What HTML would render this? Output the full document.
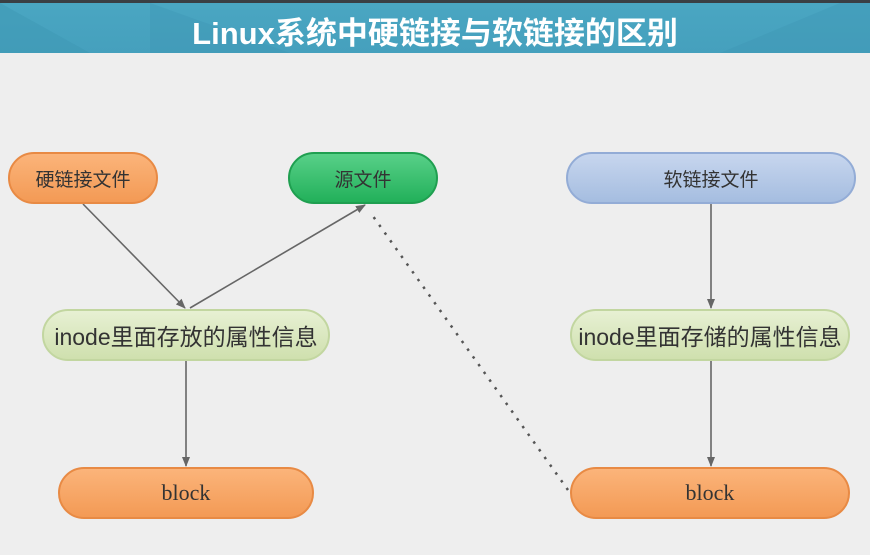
<!DOCTYPE html>
<html><head><meta charset="utf-8"><style>
body{margin:0;width:870px;height:555px;background:#eeeeee;position:relative;overflow:hidden;font-family:"Liberation Sans","Noto Sans CJK SC",sans-serif}
.hdr{position:absolute;left:0;top:0;width:870px;height:53px;background:linear-gradient(#3a3f44 0,#3a3f44 3px,#4aa6c2 3px,#45a0bd 100%)}
.hdr .t{position:absolute;left:0;width:870px;top:8px;text-align:center;color:#fff;font-size:31px;font-weight:bold}
.n{position:absolute;border-radius:26px;display:flex;align-items:center;justify-content:center;color:#333;box-sizing:border-box}
</style></head><body>
<div class="hdr"><svg width="870" height="53" style="position:absolute;left:0;top:0"><polygon points="0,3 90,53 0,53" fill="#3e97b3" opacity=".5"/><polygon points="150,3 290,53 150,53" fill="#3e97b3" opacity=".4"/><polygon points="720,53 840,3 870,3 870,53" fill="#3e97b3" opacity=".4"/></svg><div class="t">Linux系统中硬链接与软链接的区别</div></div>
<svg width="870" height="555" style="position:absolute;left:0;top:0">
<defs><marker id="a" markerWidth="10" markerHeight="10" refX="9" refY="5" orient="auto" markerUnits="userSpaceOnUse"><path d="M0,1 L10,5 L0,9 Z" fill="#666"/></marker></defs>
<g stroke="#666" stroke-width="1.6" fill="none">
<line x1="83" y1="204" x2="185" y2="308" marker-end="url(#a)"/>
<line x1="190" y1="308" x2="365" y2="205" marker-end="url(#a)"/>
<line x1="186" y1="361" x2="186" y2="466" marker-end="url(#a)"/>
<line x1="711" y1="204" x2="711" y2="308" marker-end="url(#a)"/>
<line x1="711" y1="361" x2="711" y2="466" marker-end="url(#a)"/>
<line x1="568" y1="490" x2="370" y2="212" stroke-dasharray="2.5,7" stroke-width="2.5" stroke="#555"/>
</g></svg>
<div class="n" style="left:8px;top:152px;width:150px;height:52px;background:linear-gradient(#fbb47a,#f39a55);border:2px solid #e88a44;font-size:19px">硬链接文件</div>
<div class="n" style="left:288px;top:152px;width:150px;height:52px;background:linear-gradient(#58d088,#22b05a);border:2px solid #1f9f50;font-size:19px">源文件</div>
<div class="n" style="left:566px;top:152px;width:290px;height:52px;background:linear-gradient(#c7d6ee,#a5bde0);border:2px solid #93acd6;font-size:19px">软链接文件</div>
<div class="n" style="left:42px;top:309px;width:288px;height:52px;background:linear-gradient(#e7f0d3,#cfe0ae);border:2px solid #c2d6a0;font-size:23px">inode里面存放的属性信息</div>
<div class="n" style="left:570px;top:309px;width:280px;height:52px;background:linear-gradient(#e7f0d3,#cfe0ae);border:2px solid #c2d6a0;font-size:23px">inode里面存储的属性信息</div>
<div class="n" style="left:58px;top:467px;width:256px;height:52px;background:linear-gradient(#fbb47a,#f39a55);border:2px solid #e88a44;font-size:22px;font-family:'Liberation Serif',serif">block</div>
<div class="n" style="left:570px;top:467px;width:280px;height:52px;background:linear-gradient(#fbb47a,#f39a55);border:2px solid #e88a44;font-size:22px;font-family:'Liberation Serif',serif">block</div>
</body></html>
